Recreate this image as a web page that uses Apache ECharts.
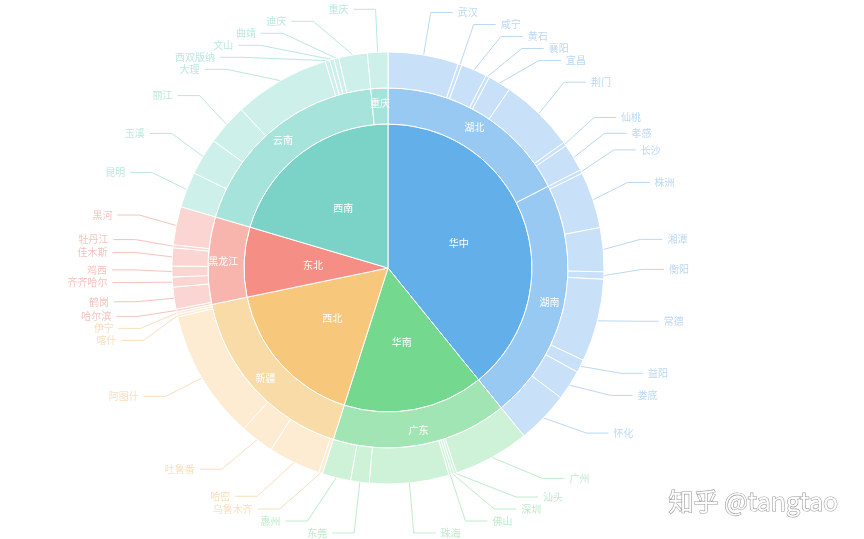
<!DOCTYPE html>
<html>
<head>
<meta charset="utf-8">
<script src="https://cdn.jsdelivr.net/npm/echarts@6/dist/echarts.min.js"></script>
<style>
html,body{margin:0;padding:0;background:#fff;}
#main{width:864px;height:539px;}
</style>
</head>
<body>
<div id="main"></div>
<script>
// ---- data ----
const regions = ['华中', '华南', '西北', '东北', '西南'];
const regionValues = [141, 56.7, 60.6, 28.2, 73.5];

const provinces = ['湖北', '湖南', '广东', '新疆', '黑龙江', '云南', '重庆'];
const provinceValues = [63, 78, 56.7, 60.6, 28.2, 68, 5.5];
const provinceRegion = [0, 0, 1, 2, 3, 4, 4];

const cities = [
  '武汉', '咸宁', '黄石', '襄阳', '宜昌', '荆门', '仙桃', '孝感',
  '长沙', '株洲', '湘潭', '衡阳', '常德', '益阳', '娄底', '怀化',
  '广州', '汕头', '深圳', '佛山', '珠海', '东莞', '惠州',
  '乌鲁木齐', '哈密', '吐鲁番', '阿图什', '喀什', '伊宁',
  '哈尔滨', '鹤岗', '齐齐哈尔', '鸡西', '佳木斯', '牡丹江', '黑河',
  '昆明', '玉溪', '丽江', '大理', '西双版纳', '文山', '曲靖', '迪庆',
  '重庆'
];
const cityValues = [
  19, 1, 7, 1, 6.2, 20.3, 1, 7.5,
  1, 15.2, 11.8, 2, 22.3, 3.5, 8.1, 14.1,
  20.5, 0.7, 0.7, 0.7, 21.4, 5, 7.7,
  1, 14.1, 9.1, 35, 0.7, 0.7,
  0.7, 5.9, 2.7, 2.9, 4.9, 0.8, 10.3,
  9.6, 10, 11.1, 25.9, 1.2, 1.2, 1.3, 7.7,
  5.5
];
const cityProvince = [
  0, 0, 0, 0, 0, 0, 0, 0,
  1, 1, 1, 1, 1, 1, 1, 1,
  2, 2, 2, 2, 2, 2, 2,
  3, 3, 3, 3, 3, 3,
  4, 4, 4, 4, 4, 4, 4,
  5, 5, 5, 5, 5, 5, 5, 5,
  6
];

// ---- styles ----
const innerColors = ['#62afea', '#74d98e', '#f7c77b', '#f58f85', '#7bd3c8'];
const midColors   = ['#98c9f2', '#a2e5b4', '#f9dba8', '#f8b5ae', '#a6e3db'];
const outerColors = ['#c8e1f8', '#cdf2d8', '#fdebd2', '#fbd5d1', '#cdf0eb'];
const labelColors = ['#bcd8f2', '#bfebcb', '#f8dfbf', '#f5c3bd', '#bce7e1'];

const FONT = '"Noto Sans CJK SC", "Noto Sans", sans-serif';

const innerData = regions.map((n, i) => ({
  name: n, value: regionValues[i], itemStyle: { color: innerColors[i] }
}));
const midData = provinces.map((n, i) => ({
  name: n, value: provinceValues[i], itemStyle: { color: midColors[provinceRegion[i]] }
}));
const outerData = cities.map((n, i) => {
  const r = provinceRegion[cityProvince[i]];
  return {
    name: n, value: cityValues[i],
    itemStyle: { color: outerColors[r] },
    label: { color: labelColors[r] },
    labelLine: { lineStyle: { color: labelColors[r] } }
  };
});

const chart = echarts.init(document.getElementById('main'), null, { renderer: 'canvas' });
const center = [388, 268];
chart.setOption({
  animation: false,
  backgroundColor: '#fff',
  series: [
    {
      type: 'pie', center, radius: [0, 144], startAngle: 90, clockwise: true,
      silent: true,
      itemStyle: { borderColor: '#fff', borderWidth: 1 },
      label: { position: 'inner', color: '#fff', fontSize: 10, fontFamily: FONT },
      labelLine: { show: false },
      data: innerData
    },
    {
      type: 'pie', center, radius: [144, 180], startAngle: 90, clockwise: true,
      silent: true,
      itemStyle: { borderColor: '#fff', borderWidth: 1 },
      label: { position: 'inner', color: '#fff', fontSize: 10, fontFamily: FONT },
      labelLine: { show: false },
      data: midData
    },
    {
      type: 'pie', center, radius: [180, 216], startAngle: 90, clockwise: true,
      silent: true,
      avoidLabelOverlap: true,
      itemStyle: { borderColor: '#fff', borderWidth: 1 },
      label: { position: 'outside', fontSize: 10, fontFamily: FONT },
      labelLine: { length: 43, length2: 22, lineStyle: { width: 1 } },
      data: outerData
    }
  ],
  graphic: [
    {
      type: 'text', left: 668, top: 488,
      style: {
        text: '知乎 @tangtao', fontSize: 25, fontFamily: FONT,
        fill: '#ffffff', stroke: '#9a9a9a', lineWidth: 1.2
      }
    }
  ]
});
</script>
</body>
</html>
